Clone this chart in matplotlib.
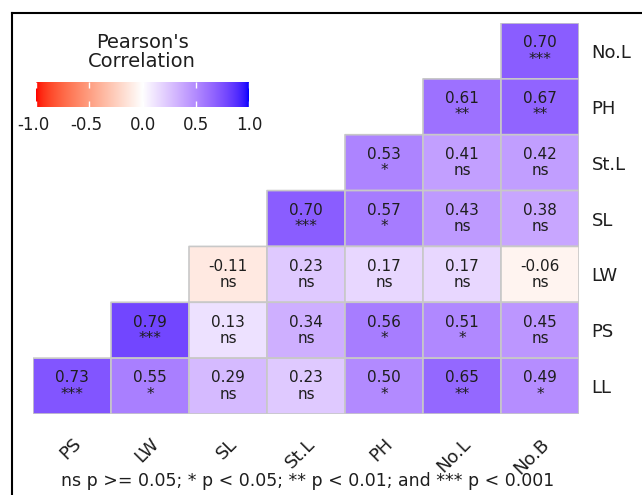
import numpy as np
import matplotlib
matplotlib.use("Agg")
import matplotlib.pyplot as plt
from matplotlib import transforms
from matplotlib.colors import ListedColormap
from matplotlib.lines import Line2D

plt.rcParams["font.family"] = ["DejaVu Sans"]

# trait names: columns left->right, rows top->bottom
x_traits = ["PS", "LW", "SL", "St.L", "PH", "No.L", "No.B"]
y_traits = ["No.L", "PH", "St.L", "SL", "LW", "PS", "LL"]

nan = np.nan
r_nol = [nan, nan, nan, nan, nan, nan, 0.70]
r_ph = [nan, nan, nan, nan, nan, 0.61, 0.67]
r_stl = [nan, nan, nan, nan, 0.53, 0.41, 0.42]
r_sl = [nan, nan, nan, 0.70, 0.57, 0.43, 0.38]
r_lw = [nan, nan, -0.11, 0.23, 0.17, 0.17, -0.06]
r_ps = [nan, 0.79, 0.13, 0.34, 0.56, 0.51, 0.45]
r_ll = [0.73, 0.55, 0.29, 0.23, 0.50, 0.65, 0.49]

s_nol = ["", "", "", "", "", "", "***"]
s_ph = ["", "", "", "", "", "**", "**"]
s_stl = ["", "", "", "", "*", "ns", "ns"]
s_sl = ["", "", "", "***", "*", "ns", "ns"]
s_lw = ["", "", "ns", "ns", "ns", "ns", "ns"]
s_ps = ["", "***", "ns", "ns", "*", "*", "ns"]
s_ll = ["***", "*", "ns", "ns", "*", "**", "*"]

bar_ticks = [-1.0, -0.5, 0.0, 0.5, 1.0]
bar_labels = ["-1.0", "-0.5", "0.0", "0.5", "1.0"]

R = np.array([r_nol, r_ph, r_stl, r_sl, r_lw, r_ps, r_ll])
S = [s_nol, s_ph, s_stl, s_sl, s_lw, s_ps, s_ll]


# red - white - blue gradient interpolated in CIE Lab
WHITE_PT = np.array([0.95047, 1.0, 1.08883])
M = np.array([[0.4124, 0.3576, 0.1805],
              [0.2126, 0.7152, 0.0722],
              [0.0193, 0.1192, 0.9505]])
MINV = np.linalg.inv(M)
D = 6 / 29


def to_lab(rgb):
    c = np.asarray(rgb, float)
    lin = np.where(c <= 0.04045, c / 12.92, ((c + 0.055) / 1.055) ** 2.4)
    t = M @ lin / WHITE_PT
    f = np.where(t > D ** 3, np.cbrt(t), t / (3 * D ** 2) + 4 / 29)
    return np.array([116 * f[1] - 16, 500 * (f[0] - f[1]), 200 * (f[1] - f[2])])


def from_lab(lab):
    L, a, b = lab
    fy = (L + 16) / 116
    f = np.array([fy + a / 500, fy, fy - b / 200])
    t = np.where(f > D, f ** 3, 3 * D ** 2 * (f - 4 / 29))
    lin = np.clip(MINV @ (t * WHITE_PT), 0, 1)
    c = np.where(lin <= 0.0031308, 12.92 * lin, 1.055 * lin ** (1 / 2.4) - 0.055)
    return np.clip(c, 0, 1)


lab_red, lab_white, lab_blue = to_lab([1, 0, 0]), to_lab([1, 1, 1]), to_lab([0, 0, 1])
cols = []
for v in np.linspace(-1, 1, 256):
    if v < 0:
        lab = lab_white + (-v) * (lab_red - lab_white)
    else:
        lab = lab_white + v * (lab_blue - lab_white)
    cols.append(from_lab(lab))
cmap = ListedColormap(cols)

fig = plt.figure(figsize=(6.42, 4.95), dpi=100)
W, H = 642, 495


def px(x0, y0, x1, y1):
    return [x0 / W, 1 - y1 / H, (x1 - x0) / W, (y1 - y0) / H]


ax = fig.add_axes(px(33, 23, 579, 414))
# pcolor leaves the masked (empty) half of the matrix undrawn
ax.pcolor(np.arange(8), np.arange(8), np.ma.masked_invalid(R), cmap=cmap,
          vmin=-1, vmax=1, edgecolors="#c8c8c8", linewidth=1.2)
ax.set_xlim(0, 7)
ax.set_ylim(7, 0)
for sp in ax.spines.values():
    sp.set_visible(False)

for i in range(7):
    for j in range(7):
        if np.isnan(R[i, j]):
            continue
        ax.text(j + 0.5, i + 0.5, "%.2f\n%s" % (R[i, j], S[i][j]), ha="center",
                va="center", fontsize=11, color="#1e1e1e", linespacing=1.1)

ax.set_xticks(np.arange(7) + 0.5)
ax.set_xticklabels(x_traits, fontsize=13, color="#1e1e1e")
ax.tick_params(axis="x", length=0, pad=15)
plt.setp(ax.get_xticklabels(), rotation=45, ha="right", va="top",
         rotation_mode="anchor")

ax.yaxis.tick_right()
ax.set_yticks(np.arange(7) + 0.5)
ax.set_yticklabels(y_traits, fontsize=13, color="#1e1e1e")
ax.tick_params(axis="y", length=0, pad=9)

# colour bar legend
cax = fig.add_axes(px(36, 82, 249, 107))
cax.imshow(np.linspace(-1, 1, 256)[None, :], aspect="auto", cmap=cmap,
           extent=[-1, 1, 0, 1])
cax.set_xlim(-1, 1)
cax.set_yticks([])
cax.set_xticks(bar_ticks)
cax.set_xticklabels([])
cax.tick_params(axis="x", direction="in", length=4, width=1, color="white",
                top=True, bottom=True)
for sp in cax.spines.values():
    sp.set_visible(False)
lab_tr = transforms.offset_copy(cax.get_xaxis_transform(), fig, x=9.5, units="points")
for t, lbl in zip(bar_ticks, bar_labels):
    cax.text(t, -0.7, lbl, transform=lab_tr, ha="right", va="center",
             fontsize=12, color="#1e1e1e")

fig.text(142 / W, 1 - 52 / H, "Pearson's\nCorrelation", ha="center", va="center",
         fontsize=14, color="#1e1e1e", linespacing=1.05)

fig.text(308 / W, 1 - 481 / H,
         "ns p >= 0.05; * p < 0.05; ** p < 0.01; and *** p < 0.001",
         ha="center", va="center", fontsize=12.5, color="#1e1e1e")

# frame lines on top and left
fig.add_artist(Line2D([12 / W, 12 / W], [0, 1 - 13 / H], color="black", lw=1.5))
fig.add_artist(Line2D([12 / W, 1], [1 - 13 / H, 1 - 13 / H], color="black", lw=1.5))

fig.savefig("out.png", dpi=100)
